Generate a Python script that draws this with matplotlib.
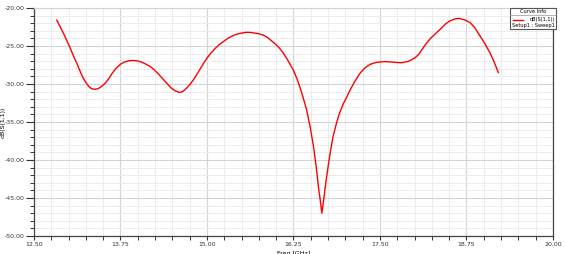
#!/usr/bin/env python3
"""S11 return loss plot (dB(S(1,1)) vs Freq)."""

import matplotlib
matplotlib.use("Agg")
import matplotlib.pyplot as plt
from matplotlib.ticker import MultipleLocator
from matplotlib.lines import Line2D

# valori
freq_ghz = [
    12.83, 12.88, 12.93, 12.97, 13.02, 13.07, 13.12, 13.17, 13.21, 13.25,
    13.29, 13.33, 13.38, 13.43, 13.48, 13.53, 13.58, 13.63, 13.69, 13.75,
    13.81, 13.87, 13.93, 13.99, 14.05, 14.11, 14.18, 14.24, 14.30, 14.36,
    14.42, 14.48, 14.54, 14.60, 14.65, 14.70, 14.75, 14.80, 14.85, 14.90,
    14.95, 15.00, 15.06, 15.12, 15.18, 15.24, 15.30, 15.36, 15.43, 15.50,
    15.57, 15.63, 15.69, 15.75, 15.81, 15.87, 15.93, 15.99, 16.05, 16.10,
    16.15, 16.20, 16.25, 16.30, 16.34, 16.39, 16.44, 16.49, 16.54, 16.58,
    16.61, 16.64, 16.66, 16.69, 16.71, 16.745, 16.78, 16.82, 16.87, 16.92,
    16.97, 17.02, 17.08, 17.14, 17.21, 17.28, 17.36, 17.45, 17.55, 17.63,
    17.72, 17.81, 17.90, 17.95, 18.00, 18.06, 18.12, 18.17, 18.23, 18.30,
    18.37, 18.44, 18.51, 18.58, 18.64, 18.72, 18.80, 18.87, 18.94, 19.01,
    19.09, 19.15, 19.21,
]
s11_db = [
    -21.6, -22.5, -23.4, -24.2, -25.2, -26.3, -27.3, -28.4, -29.2, -29.8,
    -30.3, -30.6, -30.7, -30.6, -30.3, -29.9, -29.3, -28.6, -27.9, -27.4,
    -27.1, -26.95, -26.9, -26.95, -27.1, -27.35, -27.7, -28.15, -28.7, -29.3,
    -29.9, -30.5, -30.9, -31.1, -31.0, -30.6, -30.1, -29.5, -28.8, -28.05,
    -27.3, -26.6, -25.9, -25.3, -24.8, -24.4, -24.0, -23.7, -23.45, -23.3,
    -23.2, -23.22, -23.3, -23.4, -23.55, -23.85, -24.3, -24.75, -25.3, -25.9,
    -26.6, -27.4, -28.2, -29.3, -30.35, -31.8, -33.4, -35.6, -38.25, -41.0,
    -43.5, -45.5, -47.0, -45.0, -43.5, -41.2, -39.1, -37.0, -35.2, -33.7,
    -32.6, -31.7, -30.6, -29.6, -28.6, -27.9, -27.4, -27.15, -27.06, -27.08,
    -27.15, -27.2, -27.05, -26.85, -26.6, -26.1, -25.3, -24.65, -24.0, -23.4,
    -22.8, -22.15, -21.7, -21.45, -21.36, -21.55, -21.9, -22.6, -23.6, -24.6,
    -25.9, -27.1, -28.5,
]

x_ticks = [12.50, 13.75, 15.00, 16.25, 17.50, 18.75, 20.00]
y_ticks = [-50, -45, -40, -35, -30, -25, -20]


def main() -> None:
    fig = plt.figure(figsize=(5.66, 2.54), dpi=100)
    ax = fig.add_axes([0.060, 0.0709, 0.917, 0.8976])

    ax.plot(freq_ghz, s11_db, color="#ff0000", linewidth=1.0)

    ax.set_xlim(12.5, 20.0)
    ax.set_ylim(-50, -20)
    ax.set_xticks(x_ticks)
    ax.set_xticklabels([f"{v:.2f}" for v in x_ticks])
    ax.set_yticks(y_ticks)
    ax.set_yticklabels([f"{v:.2f}" for v in y_ticks])
    ax.xaxis.set_minor_locator(MultipleLocator(0.25))
    ax.yaxis.set_minor_locator(MultipleLocator(1))

    ax.grid(True, which="major", color="#d4d4d4", linewidth=0.8)
    ax.grid(True, which="minor", color="#ececec", linewidth=0.7)
    ax.set_axisbelow(True)

    ax.tick_params(axis="both", which="major", labelsize=4.5, colors="#333333",
                   length=6, width=0.8, direction="out", pad=1)
    ax.tick_params(axis="both", which="minor", colors="#333333",
                   length=3, width=0.7, direction="out")
    ax.tick_params(axis="x", which="major", length=3)

    for side in ["left", "bottom", "right"]:
        ax.spines[side].set_color("#444444")
        ax.spines[side].set_linewidth(0.9)
    ax.spines["top"].set_color("#d4d4d4")
    ax.spines["top"].set_linewidth(0.8)

    ax.set_ylabel("dB(S(1,1))", fontsize=4.5, labelpad=0)
    ax.yaxis.set_label_coords(-0.054, 0.5)
    ax.set_xlabel("Freq [GHz]", fontsize=4.5, labelpad=0)
    ax.xaxis.set_label_coords(0.5, -0.065)

    # box "Curve Info"
    box_l, box_b, box_w, box_h = 510 / 566, 1 - 29 / 254, 46 / 566, 21 / 254
    fig.patches.append(plt.Rectangle((box_l, box_b), box_w, box_h,
                                     transform=fig.transFigure,
                                     facecolor="white", edgecolor="#555555",
                                     linewidth=0.8, zorder=5))
    fig.text(box_l + box_w / 2, 1 - 11.5 / 254, "Curve Info", fontsize=3.7,
             ha="center", va="center", zorder=6)
    fig.lines.append(Line2D([box_l, box_l + box_w], [1 - 15 / 254] * 2,
                            transform=fig.transFigure, color="#999999",
                            linewidth=0.5, zorder=6))
    fig.lines.append(Line2D([513 / 566, 523 / 566], [1 - 19.5 / 254] * 2,
                            transform=fig.transFigure, color="#ff0000",
                            linewidth=1.0, zorder=6))
    fig.text(555 / 566, 1 - 19.5 / 254, "dB(S(1,1))", fontsize=3.6,
             ha="right", va="center", zorder=6)
    fig.text(555 / 566, 1 - 25 / 254, "Setup1 : Sweep1", fontsize=3.6,
             ha="right", va="center", zorder=6)

    fig.savefig("out.png", dpi=100)
    plt.close(fig)


if __name__ == "__main__":
    main()
